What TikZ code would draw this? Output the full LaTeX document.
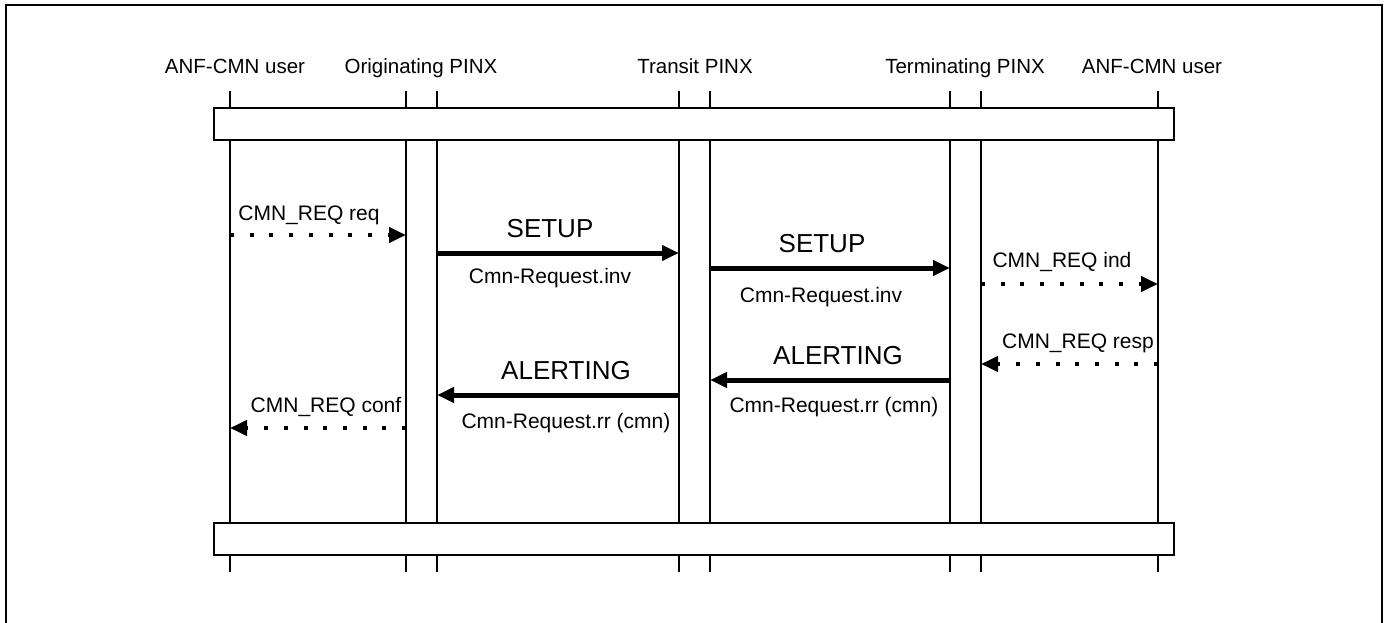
\documentclass[tikz,border=0pt]{standalone}
\usepackage{fontspec}
\setmainfont{Liberation Sans}
\usetikzlibrary{arrows.meta}
\begin{document}
\begin{tikzpicture}[x=1pt,y=-1pt,
  life/.style={line width=2.5pt},
  barbox/.style={draw,line width=2.5pt,fill=white},
  hdr/.style={anchor=base,inner sep=0pt,font=\fontsize{20.5}{24}\selectfont},
  lbl/.style={anchor=base,inner sep=0pt,font=\fontsize{21}{25}\selectfont},
  big/.style={anchor=base,inner sep=0pt,font=\fontsize{26}{30}\selectfont},
  msg/.style={line width=5pt,-{Triangle[length=17pt,width=15pt]}},
  prim/.style={line width=4pt,dash pattern=on 4pt off 15.7pt,-{Triangle[length=17pt,width=15pt]}}]
\useasboundingbox (0,0) rectangle (1385,623);
% frame (open at bottom)
\draw[line width=2.5pt] (6,630) -- (6,5) -- (1382,5) -- (1382,630);
% lifelines
\foreach \x in {230,406,437,679,710,950,981,1158}{
  \draw[life] (\x,91) -- (\x,572);
}
\node[barbox,minimum width=960pt,minimum height=32pt,inner sep=0pt] (topbar) at (694,124) {};
\node[barbox,minimum width=960pt,minimum height=32pt,inner sep=0pt] (botbar) at (694,539) {};
% headers
\node[hdr] (h1) at (235,74) {ANF-CMN user};
\node[hdr] (h2) at (421,74) {Originating PINX};
\node[hdr] (h3) at (695,74) {Transit PINX};
\node[hdr] (h4) at (965,74) {Terminating PINX};
\node[hdr] (h5) at (1152,74) {ANF-CMN user};
% endpoints
\coordinate (r1a) at (230,235); \coordinate (r1b) at (406,235);
\coordinate (s1a) at (437,253); \coordinate (s1b) at (679,253);
\coordinate (s2a) at (710,268); \coordinate (s2b) at (950,268);
\coordinate (i1a) at (981,284); \coordinate (i1b) at (1158,284);
\coordinate (p1a) at (1158,364); \coordinate (p1b) at (981,364);
\coordinate (a2a) at (950,380); \coordinate (a2b) at (710,380);
\coordinate (a1a) at (679,395); \coordinate (a1b) at (437,395);
\coordinate (c1a) at (406,428); \coordinate (c1b) at (230,428);
% messages
\draw[prim] (r1a) -- (r1b);
\draw[msg] (s1a) -- (s1b);
\draw[msg] (s2a) -- (s2b);
\draw[prim] (i1a) -- (i1b);
\draw[prim] (p1a) -- (p1b);
\draw[msg] (a2a) -- (a2b);
\draw[msg] (a1a) -- (a1b);
\draw[prim] (c1a) -- (c1b);
% labels
\node[lbl] (lr1) at (309,220) {CMN\_REQ req};
\node[big] (ls1) at (550,237) {SETUP};
\node[lbl] (ls1b) at (550,283) {Cmn-Request.inv};
\node[big] (ls2) at (822,252) {SETUP};
\node[lbl] (ls2b) at (821,302) {Cmn-Request.inv};
\node[lbl] (li1) at (1062,267) {CMN\_REQ ind};
\node[lbl] (lp1) at (1078,348) {CMN\_REQ resp};
\node[big] (la2) at (838,364) {ALERTING};
\node[lbl] (la2b) at (834,412) {Cmn-Request.rr (cmn)};
\node[big] (la1) at (566,379) {ALERTING};
\node[lbl] (la1b) at (566,428) {Cmn-Request.rr (cmn)};
\node[lbl] (lc1) at (326,412) {CMN\_REQ conf};
\end{tikzpicture}
\end{document}
